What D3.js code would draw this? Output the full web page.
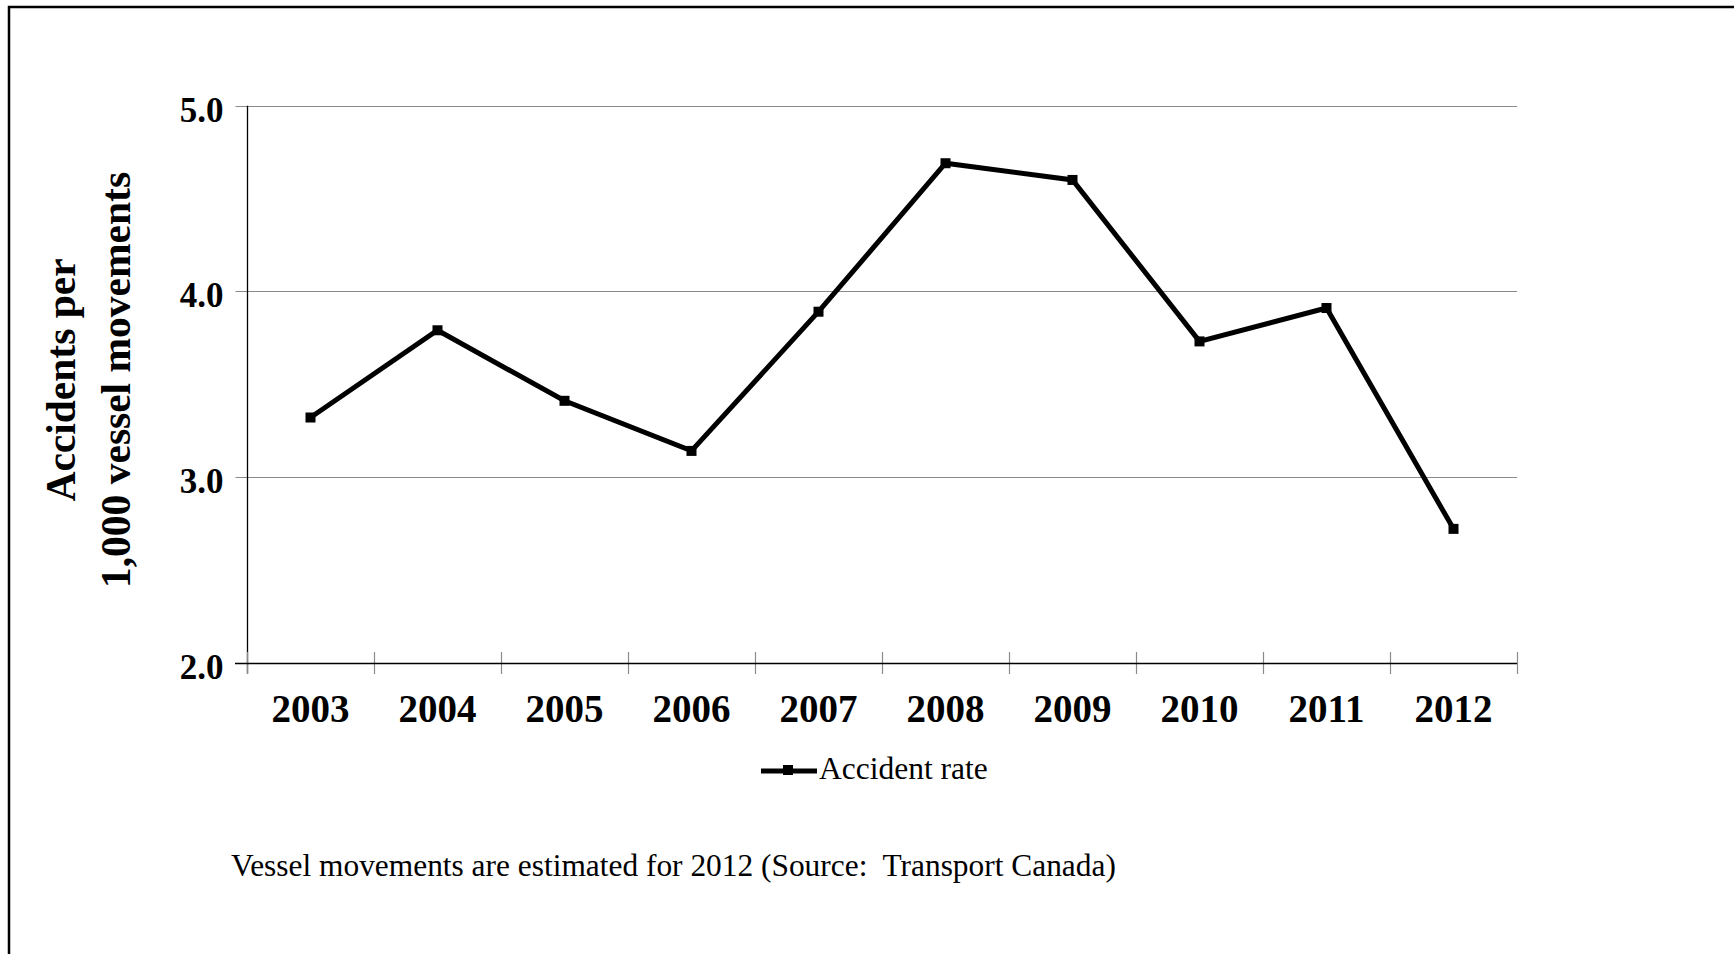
<!DOCTYPE html>
<html>
<head>
<meta charset="utf-8">
<script src="https://cdn.jsdelivr.net/npm/d3@7"></script>
<style>
  html, body { margin: 0; padding: 0; background: #fff; }
  svg { display: block; }
</style>
</head>
<body>
<svg id="chart" width="1734" height="954"></svg>
<script>
// ---- data ----
const years = ["2003","2004","2005","2006","2007","2008","2009","2010","2011","2012"];
const accidentRate = [3.32, 3.79, 3.41, 3.14, 3.89, 4.69, 4.60, 3.73, 3.91, 2.72];
const yTicks = [2.0, 3.0, 4.0, 5.0];
const seriesName = "Accident rate";
const yTitleLines = ["Accidents per", "1,000 vessel movements"];
const footnote = "Vessel movements are estimated for 2012 (Source:  Transport Canada)";

// ---- layout ----
const W = 1734, H = 954;
const plot = { left: 247, right: 1517, top: 105.7, bottom: 662.5 };
const serif = "'Liberation Serif', 'Times New Roman', serif";

const svg = d3.select("#chart");

// outer frame (right and bottom edges fall outside the picture)
svg.append("rect")
  .attr("x", 9).attr("y", 7)
  .attr("width", W + 20).attr("height", H + 20)
  .attr("fill", "none").attr("stroke", "#000").attr("stroke-width", 2.5);

const x = d3.scaleBand().domain(years).range([plot.left, plot.right]).padding(0);
const y = d3.scaleLinear().domain([2, 5]).range([plot.bottom, plot.top]);

// gridlines
svg.append("g").selectAll("line").data(yTicks.filter(d => d > 2)).join("line")
  .attr("x1", plot.left).attr("x2", plot.right)
  .attr("y1", d => Math.round(y(d)) + 0.5).attr("y2", d => Math.round(y(d)) + 0.5)
  .attr("stroke", "#8a8a8a").attr("stroke-width", 1.2);

// y axis
const yAxis = svg.append("g")
  .attr("transform", `translate(${Math.round(plot.left) + 0.5},0)`)
  .call(d3.axisLeft(y).tickValues(yTicks).tickFormat(d3.format(".1f")).tickSize(12).tickSizeOuter(0));
yAxis.select(".domain").remove();
yAxis.selectAll(".tick line").attr("stroke", "#8a8a8a").attr("x2", 0).attr("x1", -12);
yAxis.selectAll(".tick text")
  .attr("x", -24).attr("dy", "0.45em")
  .attr("font-family", serif).attr("font-weight", "bold").attr("font-size", 35).attr("fill", "#000");
yAxis.selectAll(".tick").attr("transform", d => `translate(0,${Math.round(y(d)) + 0.5})`);

// y axis line
svg.append("line")
  .attr("x1", Math.round(plot.left) + 0.5).attr("x2", Math.round(plot.left) + 0.5)
  .attr("y1", plot.top).attr("y2", plot.bottom + 11)
  .attr("stroke", "#000").attr("stroke-width", 1.3);

// x axis
const xBoundaries = years.map(d => x(d)).concat([plot.right]);
svg.append("g").selectAll("line").data(xBoundaries).join("line")
  .attr("x1", d => Math.round(d) + 0.5).attr("x2", d => Math.round(d) + 0.5)
  .attr("y1", Math.round(plot.bottom) - 11).attr("y2", Math.round(plot.bottom) + 11)
  .attr("stroke", "#8a8a8a").attr("stroke-width", 1.2);
svg.append("line")
  .attr("x1", plot.left - 12).attr("x2", plot.right)
  .attr("y1", Math.round(plot.bottom) + 0.5).attr("y2", Math.round(plot.bottom) + 0.5)
  .attr("stroke", "#000").attr("stroke-width", 1.3);

svg.append("g").selectAll("text").data(years).join("text")
  .attr("x", d => x(d) + x.bandwidth() / 2)
  .attr("y", 722)
  .attr("text-anchor", "middle")
  .attr("font-family", serif).attr("font-weight", "bold").attr("font-size", 39)
  .text(d => d);

// series line
const pts = years.map((yr, i) => ({ yr, v: accidentRate[i] }));
const line = d3.line().x(d => x(d.yr) + x.bandwidth() / 2).y(d => y(d.v));
svg.append("path")
  .datum(pts)
  .attr("d", line)
  .attr("fill", "none").attr("stroke", "#000").attr("stroke-width", 5)
  .attr("stroke-linejoin", "miter");

const ms = 10;
svg.append("g").selectAll("rect").data(pts).join("rect")
  .attr("x", d => x(d.yr) + x.bandwidth() / 2 - ms / 2)
  .attr("y", d => y(d.v) - ms / 2)
  .attr("width", ms).attr("height", ms)
  .attr("fill", "#000");

// y title
const yTitle = svg.append("text")
  .attr("transform", "translate(0,380) rotate(-90)")
  .attr("text-anchor", "middle")
  .attr("font-family", serif).attr("font-weight", "bold").attr("font-size", 41.5);
yTitle.selectAll("tspan").data(yTitleLines).join("tspan")
  .attr("x", 0)
  .attr("y", (d, i) => i === 0 ? 75 : 130)
  .text(d => d);

// legend
const lg = svg.append("g");
lg.append("line")
  .attr("x1", 761).attr("x2", 817).attr("y1", 771).attr("y2", 771)
  .attr("stroke", "#000").attr("stroke-width", 5);
lg.append("rect")
  .attr("x", 788 - ms / 2).attr("y", 771 - ms / 2 - 1).attr("width", ms).attr("height", ms)
  .attr("fill", "#000");
lg.append("text")
  .attr("x", 819).attr("y", 779)
  .attr("font-family", serif).attr("font-size", 31.5)
  .text(seriesName);

// footnote
svg.append("text")
  .attr("x", 231).attr("y", 876)
  .attr("font-family", serif).attr("font-size", 31.4)
  .attr("xml:space", "preserve")
  .style("white-space", "pre")
  .text(footnote);
</script>
</body>
</html>
